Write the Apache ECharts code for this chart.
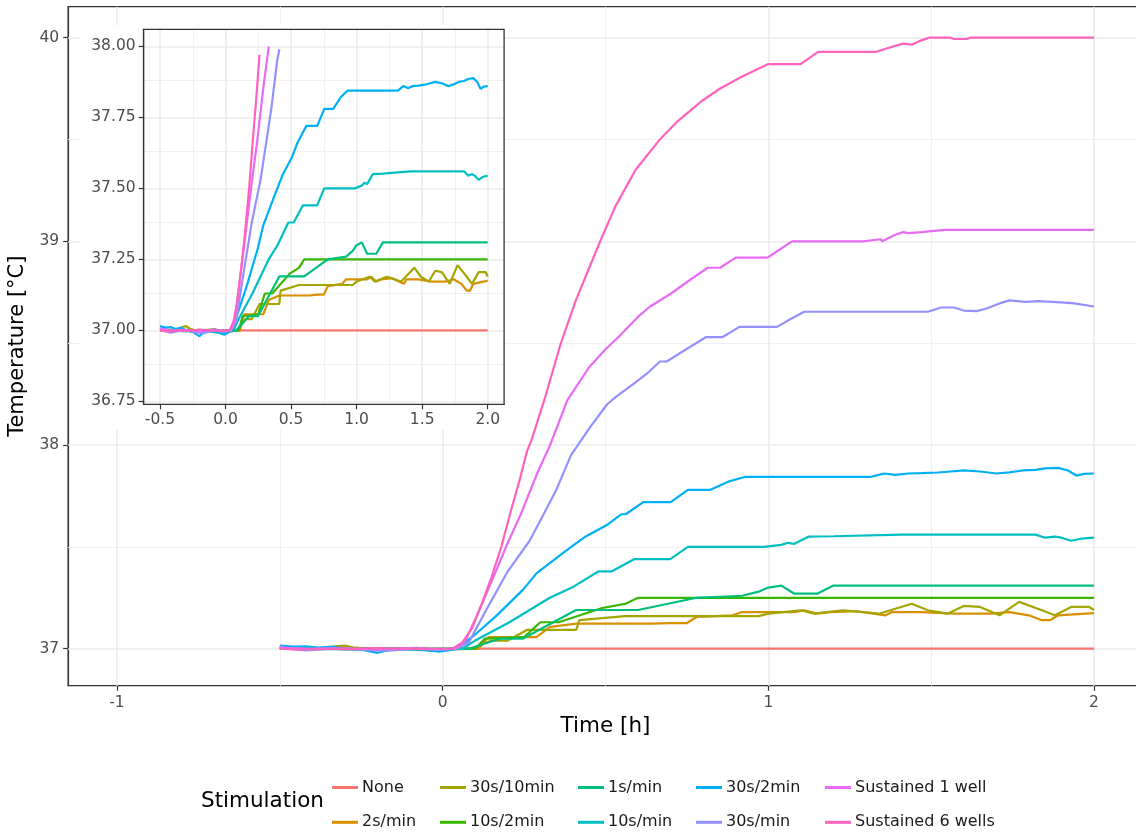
<!DOCTYPE html>
<html><head><meta charset="utf-8">
<script src="https://cdn.jsdelivr.net/npm/echarts@6/dist/echarts.min.js"></script>
<style>html,body{margin:0;padding:0;background:#fff}#c{width:1136px;height:834px}</style>
</head><body><div id="c"></div>
<script>
// ---- Data: [time (h), temperature (°C)] ----
const categories = ['None','2s/min','30s/10min','10s/2min','1s/min','10s/min','30s/2min','30s/min','Sustained 1 well','Sustained 6 wells'];
const colors = ['#F8766D','#D89000','#A3A500','#39B600','#00BF7D','#00BFC4','#00B0F6','#9590FF','#E76BF3','#FF62BC'];

const sNone = [[-0.5,37.0],[2.0,37.0]];
const s2min = [[-0.5,37.005],[-0.44,37.0],[-0.38,37.003],[-0.32,37.0],[-0.26,37.004],[-0.2,36.998],[-0.14,37.0],[-0.08,37.002],[-0.02,36.997],[0.05,37.0],[0.11,37.0],[0.14,37.057],[0.288,37.057],[0.33,37.107],[0.41,37.123],[0.64,37.123],[0.7,37.126],[0.75,37.126],[0.78,37.156],[0.89,37.164],[0.92,37.18],[1.08,37.18],[1.11,37.189],[1.15,37.172],[1.19,37.18],[1.27,37.184],[1.36,37.164],[1.38,37.18],[1.47,37.18],[1.57,37.172],[1.68,37.172],[1.74,37.18],[1.8,37.164],[1.84,37.14],[1.865,37.14],[1.89,37.164],[1.95,37.17],[2.0,37.175]];
const s30s10min = [[-0.5,37.0],[-0.42,37.003],[-0.36,37.0],[-0.33,37.012],[-0.3,37.015],[-0.27,37.005],[-0.2,36.995],[-0.14,36.998],[-0.08,37.004],[-0.02,36.996],[0.05,37.0],[0.09,37.0],[0.15,37.04],[0.2,37.04],[0.26,37.093],[0.41,37.093],[0.42,37.14],[0.56,37.16],[0.97,37.16],[1.0,37.172],[1.1,37.189],[1.14,37.172],[1.23,37.189],[1.34,37.172],[1.44,37.221],[1.49,37.189],[1.55,37.172],[1.6,37.21],[1.65,37.205],[1.71,37.164],[1.77,37.23],[1.84,37.189],[1.88,37.164],[1.93,37.205],[1.985,37.205],[2.0,37.19]];
const s10s2min = [[-0.5,37.0],[-0.4,37.002],[-0.3,36.998],[-0.2,37.0],[-0.1,37.003],[0.0,36.995],[0.1,37.0],[0.13,37.05],[0.25,37.057],[0.3,37.13],[0.356,37.13],[0.49,37.2],[0.56,37.22],[0.6,37.25],[2.0,37.25]];
const s1min = [[-0.5,37.002],[-0.4,37.0],[-0.3,36.997],[-0.2,37.002],[-0.1,36.998],[0.0,37.0],[0.08,37.0],[0.178,37.05],[0.247,37.05],[0.41,37.19],[0.6,37.19],[0.78,37.25],[0.92,37.26],[0.97,37.28],[1.0,37.30],[1.04,37.31],[1.08,37.27],[1.15,37.27],[1.2,37.31],[2.0,37.31]];
const s10smin = [[-0.5,37.005],[-0.42,37.0],[-0.34,37.006],[-0.26,36.996],[-0.18,37.0],[-0.1,36.995],[-0.03,36.99],[0.02,36.995],[0.06,37.0],[0.1,37.04],[0.205,37.13],[0.329,37.25],[0.397,37.30],[0.479,37.38],[0.52,37.38],[0.589,37.44],[0.699,37.44],[0.753,37.5],[0.986,37.5],[1.04,37.51],[1.06,37.52],[1.08,37.515],[1.123,37.55],[1.2,37.552],[1.41,37.56],[1.82,37.56],[1.85,37.545],[1.88,37.55],[1.9,37.545],[1.93,37.53],[1.96,37.54],[2.0,37.545]];
const s30s2min = [[-0.5,37.015],[-0.46,37.01],[-0.42,37.012],[-0.38,37.005],[-0.34,37.01],[-0.3,37.0],[-0.25,36.995],[-0.2,36.98],[-0.16,36.995],[-0.12,37.0],[-0.08,37.003],[-0.04,36.99],[-0.01,36.985],[0.03,36.995],[0.06,37.02],[0.1,37.07],[0.164,37.16],[0.247,37.29],[0.288,37.37],[0.37,37.47],[0.438,37.55],[0.507,37.61],[0.548,37.66],[0.562,37.66],[0.616,37.72],[0.7,37.72],[0.753,37.78],[0.822,37.78],[0.877,37.82],[0.93,37.844],[1.315,37.844],[1.33,37.85],[1.356,37.86],[1.39,37.853],[1.43,37.86],[1.47,37.862],[1.52,37.865],[1.56,37.87],[1.6,37.875],[1.65,37.87],[1.7,37.86],[1.74,37.866],[1.78,37.875],[1.82,37.878],[1.85,37.885],[1.89,37.888],[1.92,37.875],[1.946,37.85],[1.97,37.858],[2.0,37.86]];
const s30smin = [[-0.5,37.01],[-0.46,36.998],[-0.42,36.992],[-0.38,36.996],[-0.33,37.0],[-0.28,36.998],[-0.22,36.993],[-0.17,36.99],[-0.12,36.996],[-0.07,37.002],[-0.02,36.994],[0.02,36.998],[0.04,37.0],[0.08,37.03],[0.137,37.2],[0.2,37.38],[0.267,37.53],[0.31,37.66],[0.349,37.78],[0.394,37.95],[0.411,37.99],[0.454,38.09],[0.505,38.2],[0.535,38.24],[0.586,38.3],[0.627,38.35],[0.667,38.41],[0.688,38.41],[0.748,38.47],[0.809,38.53],[0.86,38.53],[0.911,38.58],[1.027,38.58],[1.07,38.62],[1.11,38.654],[1.49,38.654],[1.53,38.675],[1.57,38.675],[1.6,38.66],[1.64,38.657],[1.67,38.67],[1.71,38.695],[1.74,38.71],[1.79,38.703],[1.83,38.706],[1.87,38.703],[1.9,38.7],[1.94,38.695],[2.0,38.68]];
const sSus1 = [[-0.5,37.005],[-0.4,37.0],[-0.3,37.002],[-0.2,36.997],[-0.1,37.003],[0.0,36.998],[0.04,37.0],[0.07,37.04],[0.11,37.18],[0.15,37.33],[0.2,37.52],[0.24,37.66],[0.29,37.86],[0.33,38.0],[0.383,38.22],[0.449,38.38],[0.5,38.47],[0.54,38.53],[0.6,38.63],[0.637,38.68],[0.698,38.74],[0.759,38.81],[0.814,38.87],[0.852,38.87],[0.9,38.92],[0.997,38.92],[1.017,38.94],[1.063,38.99],[1.075,39.0],[1.29,39.0],[1.345,39.01],[1.35,39.0],[1.386,39.03],[1.414,39.045],[1.43,39.04],[1.47,39.045],[1.5,39.05],[1.544,39.056],[2.0,39.056]];
const sSus6 = [[-0.5,37.0],[-0.44,36.996],[-0.36,37.0],[-0.28,36.998],[-0.2,37.003],[-0.12,37.0],[-0.05,36.998],[0.01,37.0],[0.03,37.0],[0.06,37.03],[0.09,37.1],[0.12,37.22],[0.15,37.35],[0.18,37.5],[0.21,37.68],[0.235,37.82],[0.259,37.97],[0.272,38.02],[0.312,38.22],[0.363,38.5],[0.409,38.71],[0.45,38.87],[0.489,39.02],[0.53,39.17],[0.592,39.35],[0.667,39.5],[0.722,39.59],[0.797,39.69],[0.852,39.75],[0.921,39.81],[1.0,39.87],[1.099,39.87],[1.153,39.93],[1.332,39.93],[1.37,39.95],[1.414,39.97],[1.44,39.965],[1.468,39.985],[1.496,40.0],[1.558,40.0],[1.57,39.993],[1.61,39.993],[1.62,40.0],[2.0,40.0]];

const seriesData = [sNone, s2min, s30s10min, s10s2min, s1min, s10smin, s30s2min, s30smin, sSus1, sSus6];

// Tick values
const mainXTicks = [-1, 0, 1, 2];
const mainXMinor = [-0.5, 0.5, 1.5];
const mainYTicks = [37, 38, 39, 40];
const mainYMinor = [37.5, 38.5, 39.5];
const insetXTicks = [-0.5, 0, 0.5, 1, 1.5, 2];
const insetXMinor = [-0.25, 0.25, 0.75, 1.25, 1.75];
const insetYTicks = [36.75, 37, 37.25, 37.5, 37.75, 38];
const insetYMinor = [36.875, 37.125, 37.375, 37.625, 37.875];
const insetMaxT = 38.005;

const FONT = 'DejaVu Sans';
const GRID_MAJOR = {color:'#EBEBEB', width:1.6, type:'solid'};
const GRID_MINOR = {color:'#F0F0F0', width:1, type:'solid'};

function gridLines(xMaj, xMin, yMaj, yMin) {
  const d = [];
  xMin.forEach(v => d.push({xAxis:v, lineStyle:GRID_MINOR}));
  yMin.forEach(v => d.push({yAxis:v, lineStyle:GRID_MINOR}));
  xMaj.forEach(v => d.push({xAxis:v, lineStyle:GRID_MAJOR}));
  yMaj.forEach(v => d.push({yAxis:v, lineStyle:GRID_MAJOR}));
  return d;
}

const series = [];
series.push({type:'line', xAxisIndex:0, yAxisIndex:0, data:[[0,37]], showSymbol:false, symbol:'none', lineStyle:{opacity:0}, silent:true, z:1,
  markLine:{z:1, silent:true, animation:false, symbol:['none','none'], label:{show:false}, emphasis:{disabled:true}, data:gridLines(mainXTicks, mainXMinor, mainYTicks, mainYMinor)}});
categories.forEach((name, i) => {
  series.push({type:'line', name, xAxisIndex:0, yAxisIndex:0, data:seriesData[i], showSymbol:false, symbol:'none',
    lineStyle:{width:2.2, color:colors[i]}, itemStyle:{color:colors[i]}, silent:true, z:2, animation:false});
});
series.push({type:'line', xAxisIndex:1, yAxisIndex:1, data:[[0,37]], showSymbol:false, symbol:'none', lineStyle:{opacity:0}, silent:true, z:6,
  markLine:{z:6, silent:true, animation:false, symbol:['none','none'], label:{show:false}, emphasis:{disabled:true}, data:gridLines(insetXTicks, insetXMinor, insetYTicks, insetYMinor)}});
categories.forEach((name, i) => {
  series.push({type:'line', name, xAxisIndex:1, yAxisIndex:1, data:seriesData[i].filter(p => p[1] <= insetMaxT), showSymbol:false, symbol:'none',
    lineStyle:{width:2.2, color:colors[i]}, itemStyle:{color:colors[i]}, silent:true, z:7, animation:false});
});

const tickStyle = {color:'#333', width:1.2};
const labelBase = {fontFamily:FONT, fontSize:15.5, color:'#4D4D4D'};

const legendCols = [[0,1],[2,3],[4,5],[6,7],[8,9]];
const legendLefts = [332, 440, 578, 696, 825];
const legends = legendCols.map((col, k) => ({
  orient:'vertical', left:legendLefts[k], top:778.5, padding:0, itemGap:16.8, itemWidth:26, itemHeight:3, icon:'rect',
  selectedMode:false, data:col.map(i => categories[i]),
  textStyle:{fontFamily:FONT, fontSize:16, color:'#1A1A1A', lineHeight:18, padding:[0,0,0,-1]}
}));

const option = {
  animation:false,
  backgroundColor:'#fff',
  grid:[
    {left:68.15, width:1074.7, top:6.7, height:679, outerBoundsMode:'none', containLabel:false, show:true, borderColor:'#333', borderWidth:1.3, backgroundColor:'transparent', z:0},
    {left:143.6, top:29.3, width:360.5, height:375, outerBoundsMode:'none', containLabel:false, show:true, borderColor:'#333', borderWidth:1.3, backgroundColor:'transparent', z:8}
  ],
  xAxis:[
    {type:'value', gridIndex:0, min:-1.15, max:2.15, name:'Time [h]', nameLocation:'middle', nameGap:28,
      nameTextStyle:{fontFamily:FONT, fontSize:21.5, color:'#000'},
      axisLine:{show:true, onZero:false, lineStyle:tickStyle},
      axisTick:{show:true, length:5, customValues:mainXTicks, lineStyle:tickStyle},
      axisLabel:Object.assign({customValues:mainXTicks, margin:9, formatter:v => String(v)}, labelBase),
      splitLine:{show:false}},
    {type:'value', gridIndex:1, min:-0.625, max:2.125, z:8,
      axisLine:{show:true, onZero:false, lineStyle:tickStyle},
      axisTick:{show:true, length:5, customValues:insetXTicks, lineStyle:tickStyle},
      axisLabel:Object.assign({customValues:insetXTicks, margin:8, formatter:v => v.toFixed(1)}, labelBase),
      splitLine:{show:false}}
  ],
  yAxis:[
    {type:'value', gridIndex:0, min:36.8185, max:40.1515, name:'Temperature [°C]', nameLocation:'middle', nameGap:33,
      nameTextStyle:{fontFamily:FONT, fontSize:21, color:'#000'},
      axisLine:{show:true, onZero:false, lineStyle:tickStyle},
      axisTick:{show:true, length:5, customValues:mainYTicks, lineStyle:tickStyle},
      axisLabel:Object.assign({customValues:mainYTicks, margin:9, formatter:v => String(v)}, labelBase),
      splitLine:{show:false}},
    {type:'value', gridIndex:1, min:36.74, max:38.06, z:8,
      axisLine:{show:true, onZero:false, lineStyle:tickStyle},
      axisTick:{show:true, length:5, customValues:insetYTicks, lineStyle:tickStyle},
      axisLabel:Object.assign({customValues:insetYTicks, margin:8, formatter:v => v.toFixed(2)}, labelBase),
      splitLine:{show:false}}
  ],
  legend:legends,
  graphic:[
    {type:'rect', shape:{x:80, y:25, width:425, height:405}, style:{fill:'#fff'}, z:5, silent:true},
    {type:'text', left:201, top:790, style:{text:'Stimulation', font:'21.5px "DejaVu Sans"', fill:'#000'}, z:10, silent:true}
  ],
  series
};

const chart = echarts.init(document.getElementById('c'), null, {renderer:'canvas'});
chart.setOption(option);
</script></body></html>
